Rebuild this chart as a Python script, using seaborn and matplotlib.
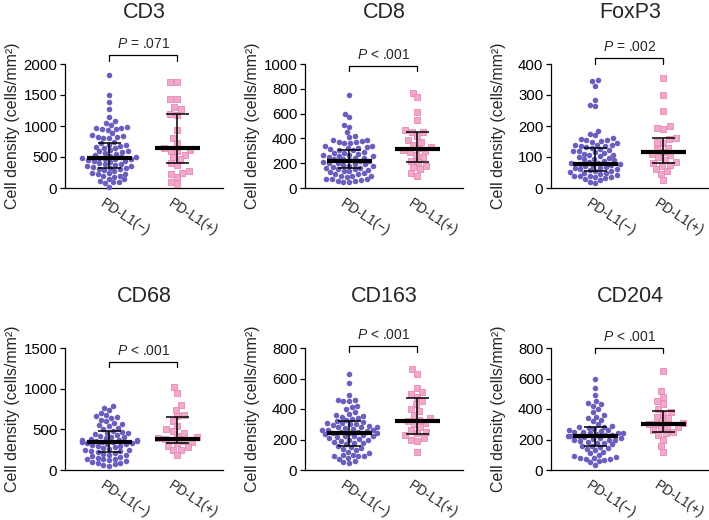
import matplotlib
matplotlib.use("Agg")
import matplotlib.pyplot as plt
import matplotlib.transforms as mtransforms
import seaborn as sns

# ---- data (cells/mm2) ----
groups = ["PD-L1(−)", "PD-L1(+)"]
markers = ["CD3", "CD8", "FoxP3", "CD68", "CD163", "CD204"]
p_texts = ["= .071", "< .001", "= .002", "< .001", "< .001", "< .001"]
y_max = [2000, 1000, 400, 1500, 800, 800]
y_step = [500, 200, 100, 500, 200, 200]
bracket_y = [2146, 986, 419, 1329, 813, 800]

cd3_neg = [1820, 1500, 1390, 1280, 1150,
           1080, 1050, 1010, 990, 970, 960, 950, 950, 940,
           880, 860, 840, 830, 820, 810, 800,
           740, 720, 700, 690, 680, 660, 650, 640,
           610, 600, 590, 580, 560, 550, 540, 520,
           500, 495, 490, 480, 475, 470, 460, 450, 440, 430, 420,
           400, 390, 380, 370, 360, 350, 340, 330, 320, 310, 300, 290, 280,
           250, 240, 230, 220, 200, 190, 180,
           150, 140, 120, 100, 90, 80, 20]
cd3_pos = [1710, 1710, 1440, 1440, 1300, 1270, 1200, 1180, 940, 800, 720, 640,
           620, 600, 600, 540, 500, 470, 400, 370, 280, 250, 220, 170, 100, 60]

cd8_neg = [750, 600, 570, 510, 490, 450, 420, 410,
           390, 385, 380, 375, 370, 365, 360,
           340, 335, 330, 325, 320, 315, 310, 305,
           290, 285, 280, 275, 270, 265, 260, 255, 250, 245,
           240, 235, 230, 225, 220, 215, 210, 205, 200,
           195, 190, 185, 180, 175, 170, 165, 160, 155, 150,
           145, 140, 135, 130, 120, 115, 110, 100, 100, 95, 90,
           75, 70, 70, 65, 60, 55, 50, 50]
cd8_pos = [770, 730, 610, 550, 470, 450, 450, 420, 390, 370, 350, 330, 320,
           310, 300, 290, 270, 250, 220, 210, 180, 170, 150, 120, 100]

foxp3_neg = [350, 345, 330, 285, 268, 265, 185, 175, 170,
             160, 158, 156, 155, 152, 150, 145, 140, 140, 138, 135, 135, 132, 130,
             125, 122, 120, 118, 115, 112, 110, 108, 105, 102, 100,
             98, 95, 92, 90, 88, 85, 82, 80, 78, 76, 75,
             72, 70, 68, 66, 65, 62, 60, 58, 55, 55,
             52, 50, 48, 45, 42, 40, 38, 38, 35, 35, 32,
             30, 25, 20, 15]
foxp3_pos = [355, 300, 250, 200, 195, 190, 160, 158, 150, 145, 130, 125, 115,
             110, 105, 100, 90, 85, 80, 75, 70, 60, 55, 45, 25]

cd68_neg = [790, 760, 740, 700, 680, 660, 650, 640, 620,
            600, 580, 560, 550, 540, 520, 500,
            480, 470, 460, 450, 440, 430, 420, 410,
            400, 390, 380, 375, 370, 365, 360, 355, 350, 345, 340,
            335, 330, 325, 320, 310, 300, 290, 280, 270,
            260, 250, 240, 235, 230, 220, 210, 200, 190,
            180, 170, 160, 150, 140, 135, 130, 120, 110,
            100, 90, 80, 70, 60, 50]
cd68_pos = [1020, 950, 800, 740, 680, 660, 600, 540, 500, 480, 450, 420, 400,
            390, 380, 370, 360, 340, 330, 300, 280, 250, 240, 180]

cd163_neg = [630, 570, 490, 460, 460, 450, 450, 420, 410,
             400, 380, 370, 360, 355, 350, 340, 335, 330,
             320, 315, 310, 305, 300, 300, 295, 290, 285, 280, 280,
             275, 270, 265, 260, 260, 255, 250, 250, 245, 240, 240,
             235, 230, 225, 220, 220, 215, 210, 205, 200, 200,
             190, 185, 180, 180, 170, 160, 150, 145, 140, 130,
             120, 110, 100, 100, 95, 90, 90, 80, 70, 60, 50, 45]
cd163_pos = [660, 630, 540, 510, 500, 480, 450, 430, 400, 390, 360, 340, 330,
             320, 310, 300, 280, 260, 250, 240, 230, 210, 200, 190, 120]

cd204_neg = [600, 540, 490, 450, 440, 430, 420, 400, 380, 360, 350,
             340, 330, 320, 300, 290, 285, 280, 275, 270,
             265, 260, 255, 250, 250, 245, 240, 240, 235, 230, 230,
             225, 220, 220, 215, 210, 210, 205, 200, 200, 195,
             190, 185, 180, 175, 170, 160, 155, 150, 145,
             140, 130, 120, 110, 100, 90, 85, 80, 80, 75,
             70, 65, 60, 50, 30]
cd204_pos = [650, 520, 480, 450, 430, 400, 380, 370, 350, 340, 320, 310, 300,
             300, 290, 280, 270, 260, 250, 240, 230, 200, 160, 120]

neg_values = [cd3_neg, cd8_neg, foxp3_neg, cd68_neg, cd163_neg, cd204_neg]
pos_values = [cd3_pos, cd8_pos, foxp3_pos, cd68_pos, cd163_pos, cd204_pos]

# median and interquartile range, as drawn in the figure
neg_median = [480, 215, 78, 340, 240, 220]
neg_q1 = [330, 160, 55, 225, 155, 155]
neg_q3 = [720, 310, 130, 480, 320, 280]
pos_median = [640, 315, 115, 380, 320, 300]
pos_q1 = [400, 210, 80, 330, 235, 250]
pos_q3 = [1190, 455, 160, 650, 470, 390]

# ---- styling ----
sns.set_theme(style="ticks")
plt.rcParams["font.family"] = ["Liberation Sans", "DejaVu Sans"]
plt.rcParams["mathtext.fontset"] = "custom"
plt.rcParams["mathtext.it"] = "Liberation Sans:italic"
plt.rcParams["mathtext.rm"] = "Liberation Sans"

purple = "#6a5fbe"
pink_fill = "#f2a8c8"
pink_edge = "#e48ab5"

W, H = 709, 520
fig = plt.figure(figsize=(W / 100, H / 100), dpi=100)

lefts = [65, 305, 551]
rows = [(64, 188), (348, 470)]   # (top px, bottom px)
ax_w = 158

for i, name in enumerate(markers):
    r, c = divmod(i, 3)
    top, bot = rows[r]
    ax = fig.add_axes([lefts[c] / W, 1 - bot / H, ax_w / W, (bot - top) / H])

    sns.swarmplot(x=[groups[0]] * len(neg_values[i]), y=neg_values[i],
                  order=groups, color=purple, size=4.0, linewidth=0, ax=ax)
    sns.swarmplot(x=[groups[1]] * len(pos_values[i]), y=pos_values[i],
                  order=groups, color=pink_fill, marker="s", size=4.2,
                  edgecolor=pink_edge, linewidth=0.6, ax=ax)
    for coll in ax.collections:
        coll.set_clip_on(False)

    # median (thick) and IQR whiskers
    meds = [neg_median[i], pos_median[i]]
    q1s = [neg_q1[i], pos_q1[i]]
    q3s = [neg_q3[i], pos_q3[i]]
    for k in range(2):
        ax.hlines(meds[k], k - 0.33, k + 0.33, color="black", lw=3.0, zorder=5)
        ax.vlines(k, q1s[k], q3s[k], color="black", lw=1.1, zorder=5)
        ax.hlines([q1s[k], q3s[k]], k - 0.17, k + 0.17, color="black", lw=1.1, zorder=5)

    # significance bracket
    by = bracket_y[i]
    drop = y_max[i] * 0.045
    ax.plot([0, 0, 1, 1], [by - drop, by, by, by - drop], color="black",
            lw=0.9, clip_on=False)
    ax.annotate("$\\it{P}$ " + p_texts[i], (0.5, by), xytext=(0, 3),
                textcoords="offset points", ha="center", va="bottom",
                fontsize=10, annotation_clip=False)

    ax.set_xlim(-0.65, 1.67)
    ax.set_ylim(0, y_max[i])
    ax.set_yticks(range(0, y_max[i] + 1, y_step[i]))
    ax.tick_params(axis="y", labelsize=10.8, length=3.5, width=0.9, pad=2,
                   color="black", labelcolor="black")
    ax.tick_params(axis="x", length=0, pad=6)
    ax.set_xticks([0, 1])
    ax.set_xticklabels(groups, rotation=-33, ha="left", va="top",
                       rotation_mode="anchor", fontsize=9.8)
    shift = mtransforms.ScaledTranslation(-4 / 100, 0, fig.dpi_scale_trans)
    for lab in ax.get_xticklabels():
        lab.set_transform(lab.get_transform() + shift)
    ax.set_xlabel("")
    ax.set_ylabel("Cell density (cells/mm²)", fontsize=11.5)
    ax.yaxis.set_label_coords(-45 / ax_w, 0.5)
    ax.set_title(name, fontsize=15.5, pad=33)
    sns.despine(ax=ax)
    for s in ["left", "bottom"]:
        ax.spines[s].set_color("black")
        ax.spines[s].set_linewidth(0.9)

fig.savefig("out.png", dpi=100)
